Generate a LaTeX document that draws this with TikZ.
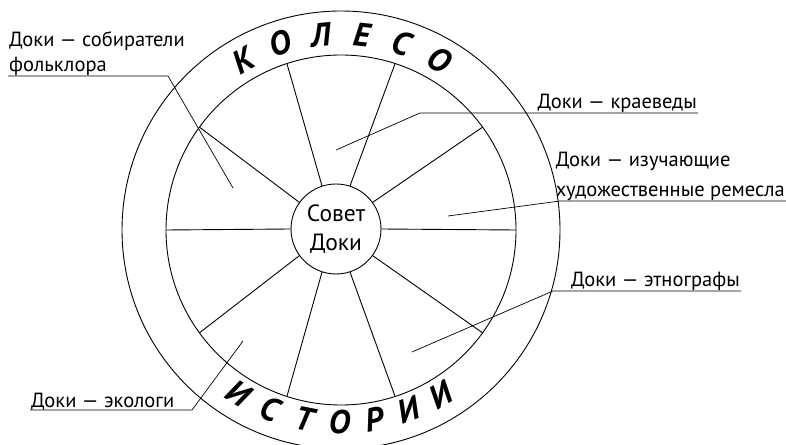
\documentclass[tikz,border=0pt]{standalone}
\usepackage{fontspec}
\setmainfont{PT Sans}
\usetikzlibrary{positioning, calc}

\begin{document}
\begin{tikzpicture}[x=1pt, y=1pt,
        ring/.style={circle, draw, line width=0.9pt, inner sep=0pt, outer sep=0pt},
        spoke/.style={line width=0.9pt},
        lbl/.style={align=left, inner xsep=1pt, inner ysep=0pt, font=\fontsize{20.5}{25}\selectfont},
        lead/.style={line width=0.7pt},
        wl/.style={inner sep=0pt, font=\fontsize{33}{33}\selectfont\bfseries\itshape}]
        \useasboundingbox (0,0) rectangle (786,444);

        \coordinate (c) at (341,214);
        \node (tyre) [ring, minimum size=438pt] at (c) {};
        \node (rim) [ring, minimum size=350pt] at (c) {};
        \node (hub) [ring, minimum size=90pt, align=center, font=\fontsize{23.5}{29}\selectfont] at (336,215) {Совет\\Доки};
        \foreach \a in {0,36,...,324}
            \draw[spoke] (hub.\a) -- (rim.\a);

        \foreach \l [count=\i] in {К,О,Л,Е,С,О}
            \node (kol\i) [wl, rotate={42-12*\i}] at ($(c)+({132-12*\i}:196)$) {\l};
        \foreach \l [count=\i] in {И,С,Т,О,Р,И,И}
            \node (ist\i) [wl, rotate={317.5+10.5*\i}] at ($(c)+({227.5+10.5*\i}:192.5)$) {\l};

        \node (sobir) [lbl, anchor=south west] at (8,368) {Доки — собиратели\\фольклора};
        \node (krai) [lbl, anchor=south east] at (698,331) {Доки — краеведы};
        \node (izuch) [lbl, anchor=south east] at (786,243) {Доки — изучающие\\[5pt]художественные ремесла};
        \node (etno) [lbl, anchor=south east] at (741,153) {Доки — этнографы};
        \node (ekol) [lbl, anchor=south west] at (30,34) {Доки — экологи};

        \coordinate (sobir-k) at (168,368);
        \coordinate (sobir-p) at (233,256);
        \coordinate (krai-k) at (420,331);
        \coordinate (krai-p) at (336,294);
        \coordinate (izuch-k) at (560,243);
        \coordinate (izuch-p) at (448,228);
        \coordinate (etno-k) at (553,153);
        \coordinate (etno-p) at (412,92);
        \coordinate (ekol-k) at (192,34);
        \coordinate (ekol-p) at (243,103);

        \draw[lead] (sobir.south west) -- (sobir-k) -- (sobir-p);
        \draw[lead] (krai.south east) -- (krai-k) -- (krai-p);
        \draw[lead] (izuch.south east) -- (izuch-k) -- (izuch-p);
        \draw[lead] (etno.south east) -- (etno-k) -- (etno-p);
        \draw[lead] (ekol.south west) -- (ekol-k) -- (ekol-p);
    \end{tikzpicture}
\end{document}
